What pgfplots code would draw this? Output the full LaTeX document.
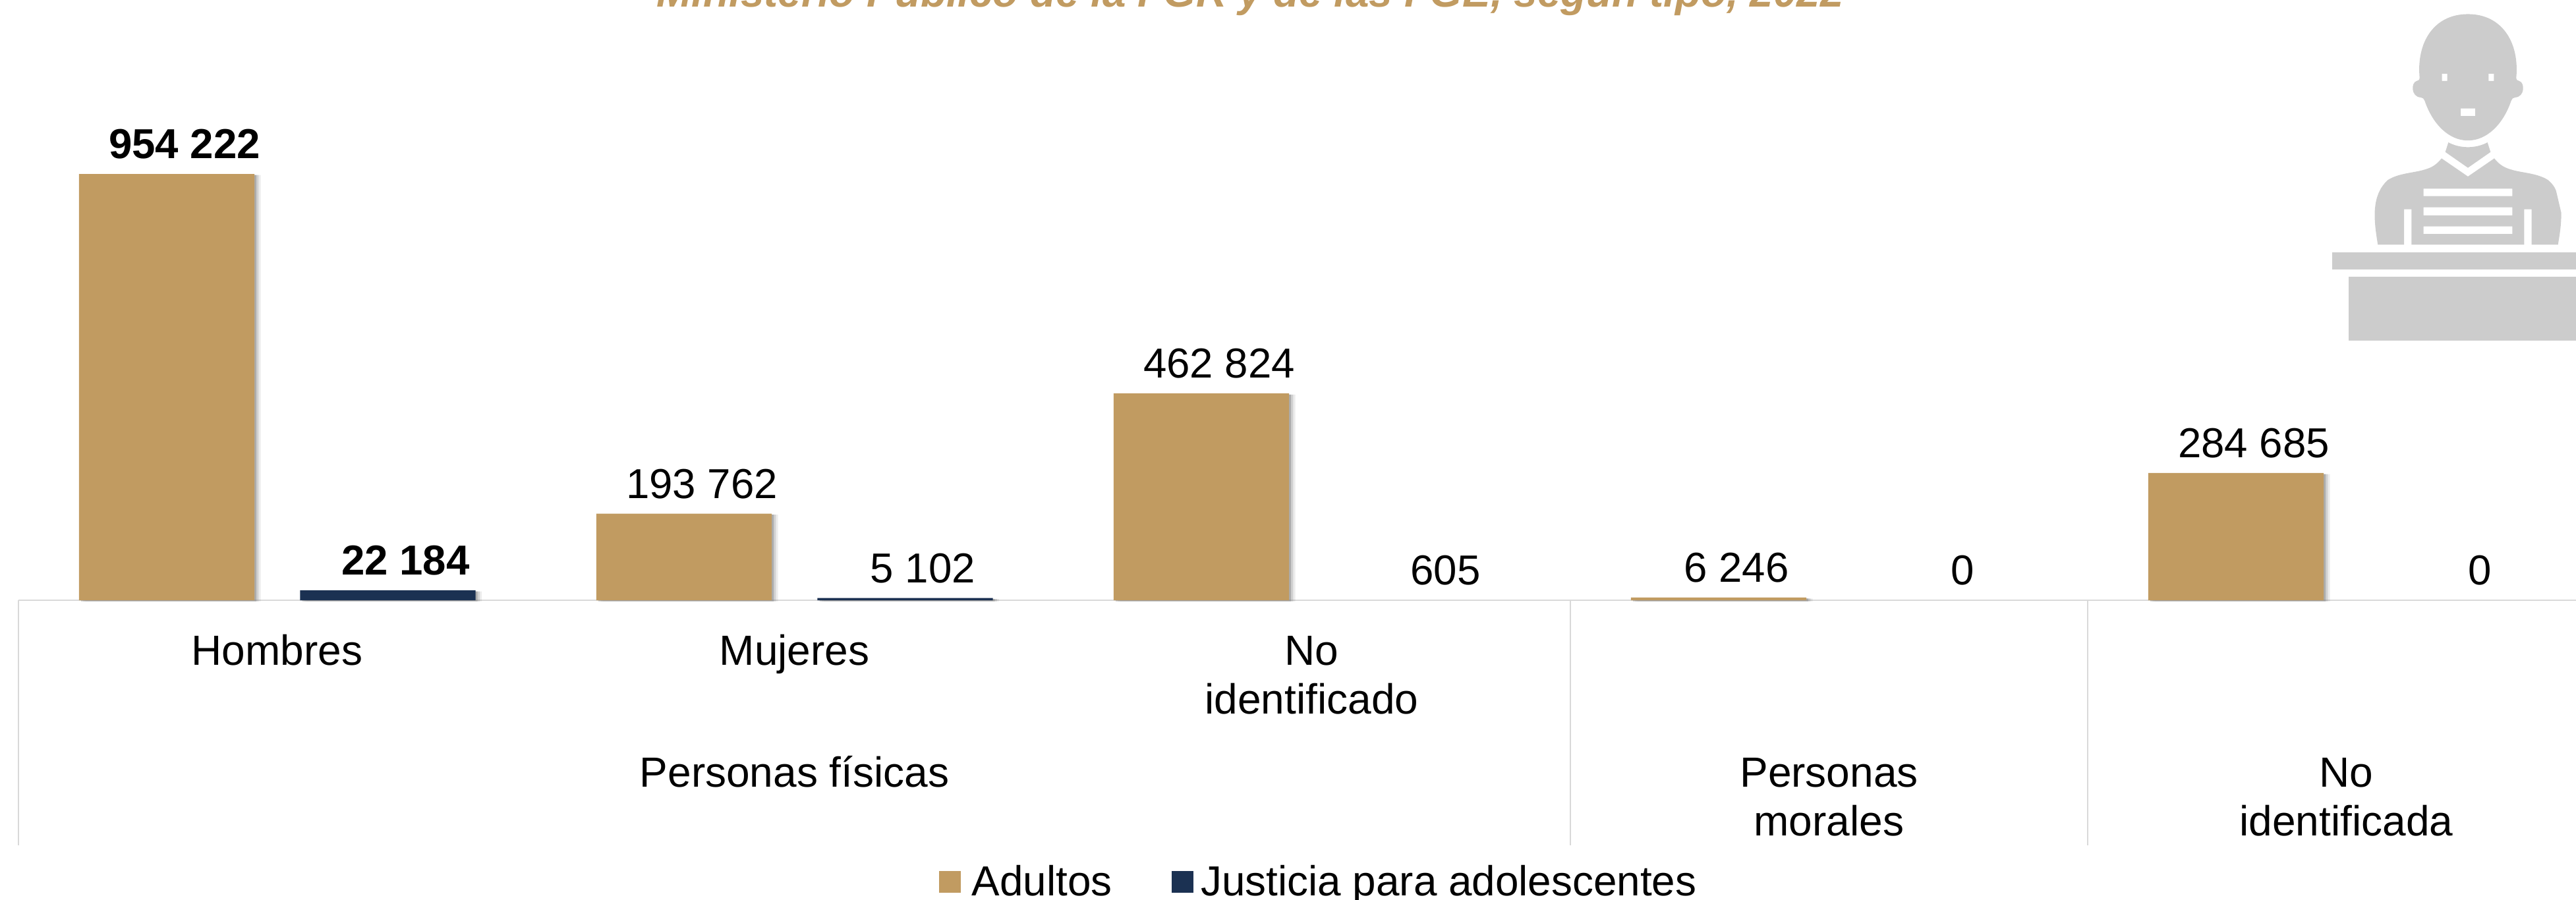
\documentclass[border=0pt]{standalone}
\usepackage{fontspec}
\setmainfont{Liberation Sans}
\usepackage{pgfplots}
\usepackage{pgfplotstable}
\pgfplotsset{compat=1.18}
\usetikzlibrary{shadows}
\definecolor{oro}{HTML}{C19B61}
\definecolor{marino}{HTML}{1B3152}
\definecolor{linea}{HTML}{D9D9D9}
\definecolor{icono}{HTML}{CCCCCC}
\newcommand{\fuente}{\fontsize{15.9}{18.75}\selectfont}
\newcommand{\fuenteeje}{\fontsize{16}{18.5}\selectfont}
\makeatletter
\tikzset{sin sombra/.code={\let\tikz@preactions\pgfutil@empty}}
\makeatother
\tikzset{sombra/.style={
    general shadow={shadow xshift=2.4pt, shadow yshift=-0.4pt, fill=gray, opacity=0.15},
    general shadow={shadow xshift=1.6pt, shadow yshift=-0.4pt, fill=gray, opacity=0.25},
    general shadow={shadow xshift=0.8pt, shadow yshift=-0.4pt, fill=gray, opacity=0.45}}}

\pgfplotstableread{
x y
0 954222
1 193762
2 462824
3 6246
4 284685
}\adultos
\pgfplotstableread{
x y
0 22184
1 5102
}\adolescentes
\pgfplotstableread{
x y
2 605
3 0
4 0
}\adolescentesb

\begin{document}
\begin{tikzpicture}
\path[use as bounding box] (0,0) rectangle (977.25pt,341.25pt);
\begin{axis}[
    at={(7pt,113.5pt)}, anchor=south west,
    scale only axis, width=970.25pt, height=227.75pt,
    clip=false,
    xmin=-0.5, xmax=4.444, ymin=0, ymax=1343600,
    axis x line=bottom, axis y line=none,
    x axis line style={draw=linea, line width=0.7pt, -},
    major tick length=0pt,
    tick style={draw=none},
    xtick={0,1,2},
    xticklabels={Hombres,Mujeres,{\vphantom{b}No\\identificado}},
    xticklabel style={font=\fuenteeje, align=center, anchor=north, inner sep=0pt, yshift=-12.8pt},
    extra x ticks={1,3,4},
    extra x tick labels={Personas físicas,{\vphantom{í}Personas\\morales},{\vphantom{í}No\\identificada}},
    extra x tick style={xticklabel style={yshift=-46pt}},
    ybar,
    bar width=0.339,
    point meta=y,
    nodes near coords,
    nodes near coords style={font=\fuente, text=black, anchor=south, inner sep=0pt,
        yshift=5.5pt, xshift=6.75pt,
        /pgf/number format/fixed, /pgf/number format/precision=0,
        /pgf/number format/1000 sep={\ }, /pgf/number format/assume math mode=true},
    legend style={at={(0.3597,-0.470)}, anchor=west, draw=none, fill=none, inner sep=0pt,
        font=\fontsize{15.95}{18.75}\selectfont, legend columns=2,
        nodes={inner sep=0pt},
        /tikz/column 1/.style={column sep=4.25pt},
        /tikz/column 2/.style={column sep=22.5pt},
        /tikz/column 3/.style={column sep=3pt}},
]
\addplot[draw=none, fill=oro, bar shift=-0.2134, sombra,
    coordinate style/.condition={x==0}{execute at begin node=\bfseries},
    legend image code/.code={\fill[sin sombra, oro] (0pt,-4pt) rectangle (8.25pt,4.25pt);}]
    table[x=x,y=y] {\adultos};
\addlegendentry{Adultos}
\addplot[draw=none, fill=marino, bar shift=0.214, sombra,
    coordinate style/.condition={x==0}{execute at begin node=\bfseries},
    legend image code/.code={\fill[sin sombra, marino] (0pt,-4pt) rectangle (8.25pt,4.25pt);}]
    table[x=x,y=y] {\adolescentes};
\addlegendentry{Justicia para adolescentes}
% barras casi nulas: sin relleno ni sombra, solo la etiqueta
\addplot[forget plot, draw=none, fill=none, bar shift=0.214,
    nodes near coords style={/tikz/xshift=2pt}]
    table[x=x,y=y] {\adolescentesb};
\draw[linea, line width=0.7pt] (axis cs:-0.5,0) -- (axis cs:-0.5,-548650);
\draw[linea, line width=0.7pt] (axis cs:2.5,0) -- (axis cs:2.5,-548650);
\draw[linea, line width=0.7pt] (axis cs:3.5,0) -- (axis cs:3.5,-548650);
\end{axis}
% titulo, recortado por el borde superior
\node[anchor=base, text=oro, font=\fontsize{15.95}{18}\selectfont\bfseries\itshape]
    at (474.25pt,338.75pt) {Ministerio Público de la FGR y de las FGE, según tipo, 2022};
% icono (coordenadas de recorte)
\begin{scope}[shift={(850pt,341.25pt)}, x=0.08333pt, y=-0.08929pt]
\fill[icono, even odd rule]
    (815,330) .. controls (800,180) and (880,60) .. (1035,60)
    .. controls (1190,60) and (1270,180) .. (1255,330)
    .. controls (1255,340) and (1262,343) .. (1268,344)
    .. controls (1295,350) and (1295,412) .. (1250,414)
    .. controls (1240,414) and (1236,420) .. (1232,428)
    .. controls (1195,530) and (1120,597) .. (1035,597)
    .. controls (950,597) and (875,530) .. (838,428)
    .. controls (834,420) and (830,414) .. (820,414)
    .. controls (775,412) and (775,350) .. (802,344)
    .. controls (808,343) and (815,340) .. (815,330) -- cycle
    (917,313) rectangle (941,344)
    (1129,313) rectangle (1153,344)
    (1002,461) rectangle (1068,493);
\fill[icono] (946,605) .. controls (1000,632) and (1070,632) .. (1124,605)
    -- (1138,646) -- (1035,713) -- (932,646) -- cycle;
\fill[icono, even odd rule]
    (625,1040) .. controls (605,930) and (595,830) .. (670,765)
    .. controls (720,735) and (790,735) .. (840,720)
    .. controls (880,710) and (900,690) .. (915,673)
    -- (1035,750) -- (1155,673)
    .. controls (1170,690) and (1190,710) .. (1230,720)
    .. controls (1280,735) and (1350,735) .. (1400,765)
    .. controls (1425,785) and (1437,805) .. (1440,825)
    -- (1460,905) .. controls (1460,960) and (1452,1000) .. (1445,1040)
    -- (1325,1040) -- (1325,889) -- (1291,889) -- (1291,1040)
    -- (778,1040) -- (778,889) -- (744,889) -- (744,1040) -- cycle
    (833,802) rectangle (1237,833)
    (833,881) rectangle (1237,915)
    (833,962) rectangle (1237,994);
\fill[icono] (418,1072) rectangle (1530,1145);
\fill[icono] (492,1176) rectangle (1530,1448);
\end{scope}
\end{tikzpicture}
\end{document}
